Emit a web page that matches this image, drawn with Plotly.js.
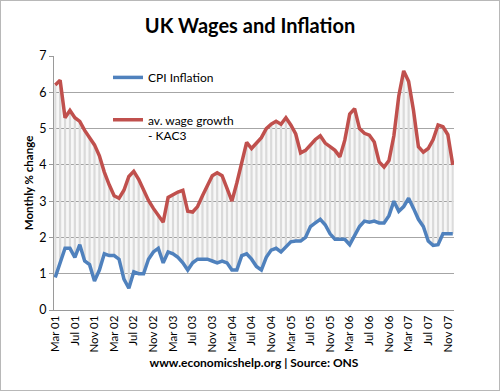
<!DOCTYPE html>
<html>
<head>
<meta charset="utf-8">
<script src="https://cdn.plot.ly/plotly-3.0.1.min.js"></script>
<style>
html,body{margin:0;padding:0;background:#fff;}
#wrap{width:500px;height:391px;box-sizing:border-box;border:1px solid #b8b8b8;overflow:hidden;}
#chart{width:498px;height:389px;}
</style>
</head>
<body>
<div id="wrap"><div id="chart"></div></div>
<script>
const months = [
 "Mar 01","Apr 01","May 01","Jun 01","Jul 01","Aug 01","Sep 01","Oct 01","Nov 01","Dec 01",
 "Jan 02","Feb 02","Mar 02","Apr 02","May 02","Jun 02","Jul 02","Aug 02","Sep 02","Oct 02","Nov 02","Dec 02",
 "Jan 03","Feb 03","Mar 03","Apr 03","May 03","Jun 03","Jul 03","Aug 03","Sep 03","Oct 03","Nov 03","Dec 03",
 "Jan 04","Feb 04","Mar 04","Apr 04","May 04","Jun 04","Jul 04","Aug 04","Sep 04","Oct 04","Nov 04","Dec 04",
 "Jan 05","Feb 05","Mar 05","Apr 05","May 05","Jun 05","Jul 05","Aug 05","Sep 05","Oct 05","Nov 05","Dec 05",
 "Jan 06","Feb 06","Mar 06","Apr 06","May 06","Jun 06","Jul 06","Aug 06","Sep 06","Oct 06","Nov 06","Dec 06",
 "Jan 07","Feb 07","Mar 07","Apr 07","May 07","Jun 07","Jul 07","Aug 07","Sep 07","Oct 07","Nov 07","Dec 07"
];
const tickLabels = ["Mar 01","Jul 01","Nov 01","Mar 02","Jul 02","Nov 02","Mar 03","Jul 03","Nov 03",
 "Mar 04","Jul 04","Nov 04","Mar 05","Jul 05","Nov 05","Mar 06","Jul 06","Nov 06","Mar 07","Jul 07","Nov 07"];
const cpiInflation = [
 0.9,1.3,1.7,1.7,1.45,1.8,1.35,1.25,0.8,1.1,
 1.55,1.5,1.5,1.4,0.85,0.6,1.05,1.0,1.0,1.4,1.6,1.7,
 1.3,1.6,1.55,1.45,1.3,1.1,1.3,1.4,1.4,1.4,1.35,1.3,
 1.35,1.3,1.1,1.1,1.5,1.55,1.4,1.2,1.1,1.45,1.65,1.7,
 1.6,1.75,1.88,1.9,1.9,2.0,2.3,2.4,2.5,2.35,2.1,1.95,
 1.95,1.95,1.8,2.05,2.3,2.45,2.42,2.45,2.4,2.4,2.6,3.0,
 2.72,2.85,3.08,2.8,2.5,2.3,1.9,1.78,1.8,2.1,2.1,2.1
];
const wageGrowth = [
 6.2,6.33,5.3,5.5,5.3,5.2,4.95,4.75,4.55,4.25,
 3.8,3.45,3.15,3.08,3.3,3.68,3.82,3.6,3.3,3.02,2.8,2.6,
 2.42,3.1,3.18,3.25,3.3,2.72,2.7,2.85,3.15,3.45,3.7,3.78,
 3.7,3.35,3.0,3.5,4.1,4.62,4.45,4.6,4.75,5.0,5.12,5.2,
 5.12,5.3,5.1,4.85,4.33,4.4,4.55,4.7,4.8,4.6,4.5,4.4,
 4.22,4.68,5.4,5.55,5.0,4.87,4.82,4.63,4.08,3.94,4.12,4.8,
 5.9,6.59,6.3,5.5,4.5,4.35,4.45,4.7,5.1,5.05,4.83,4.0
];

const gap = wageGrowth.map((w, i) => w - cpiInflation[i]);
const FONT = "Lato, 'Open Sans', sans-serif";

const traces = [
  {type: "bar", x: months, y: gap, base: cpiInflation, width: 0.45,
   marker: {color: "#e2e2e2", line: {width: 0}}, showlegend: false, hoverinfo: "skip"},
  {type: "scatter", mode: "lines", x: months, y: cpiInflation, line: {width: 0},
   showlegend: false, hoverinfo: "skip"},
  {type: "scatter", mode: "lines", x: months, y: wageGrowth, line: {width: 0},
   fill: "tonexty", fillcolor: "rgba(0,0,0,0.03)", showlegend: false, hoverinfo: "skip"},
  {type: "scatter", mode: "lines", name: "CPI Inflation", x: months, y: cpiInflation,
   line: {color: "#4f81bd", width: 3.5}, legend: "legend"},
  {type: "scatter", mode: "lines", name: "av. wage growth<br>- KAC3", x: months, y: wageGrowth,
   line: {color: "#c0504d", width: 3.5}, legend: "legend2"}
];

const legendBase = {bgcolor: "rgba(0,0,0,0)", borderwidth: 0, font: {family: FONT, size: 12, color: "#000"},
  xanchor: "left", yanchor: "top", valign: "top", itemwidth: 30};

const layout = {
  width: 498, height: 389,
  margin: {l: 53, r: 45, t: 55, b: 80},
  paper_bgcolor: "#fff", plot_bgcolor: "#fff",
  font: {family: FONT, size: 12, color: "#000"},
  title: {text: "<b>UK Wages and Inflation</b>", font: {family: FONT, size: 20, color: "#000"},
          x: 0.5, xanchor: "center", y: 0.935, yanchor: "middle"},
  xaxis: {type: "category", range: [-0.25, 81.25], tickmode: "array", tickvals: tickLabels, ticktext: tickLabels,
          tickangle: -90, tickfont: {family: FONT, size: 11.5, color: "#000"}, showgrid: false,
          showline: true, linecolor: "#9a9a9a", linewidth: 1, ticks: "", zeroline: false,
          title: {text: "<b>www.economicshelp.org | Source: ONS</b>", font: {family: FONT, size: 12, color: "#000"}, standoff: 7}},
  yaxis: {range: [0, 7], dtick: 1, tick0: 0, showgrid: true, gridcolor: "#a6a6a6", gridwidth: 1,
          showline: true, linecolor: "#9a9a9a", linewidth: 1, ticks: "outside", ticklen: 4, tickcolor: "#9a9a9a",
          zeroline: false, tickfont: {family: FONT, size: 12.5, color: "#000"},
          title: {text: "<b>Monthly % change</b>", font: {family: FONT, size: 11.5, color: "#000"}, standoff: 3}},
  barmode: "overlay",
  legend: Object.assign({}, legendBase, {x: 0.135, y: 0.972}),
  legend2: Object.assign({}, legendBase, {x: 0.135, y: 0.805}),
  showlegend: true
};

Plotly.newPlot("chart", traces, layout, {displayModeBar: false, staticPlot: true});
</script>
</body>
</html>
